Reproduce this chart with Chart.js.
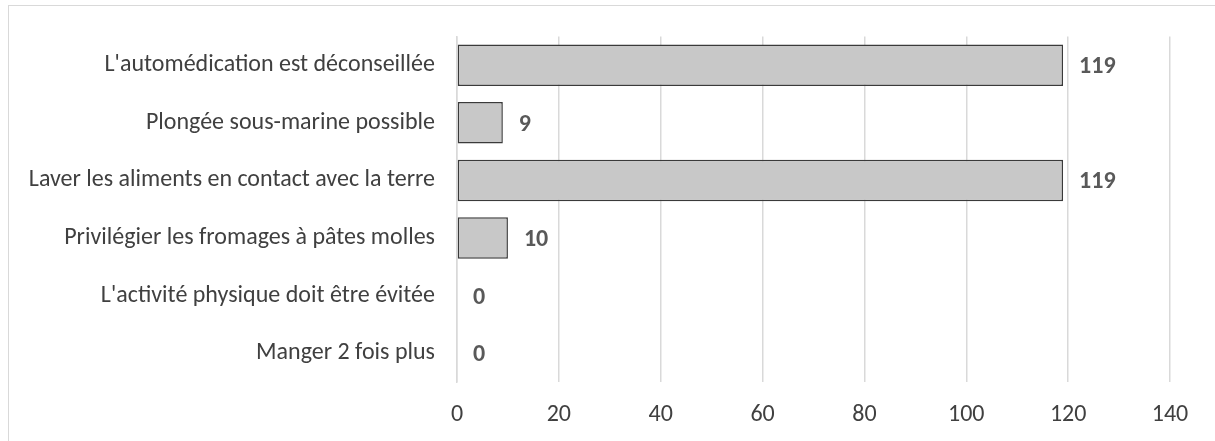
<!DOCTYPE html>
<html>
<head>
<meta charset="utf-8">
<script src="https://cdn.jsdelivr.net/npm/chart.js@4.4.0/dist/chart.umd.min.js"></script>
<style>
  body { margin: 0; background: #fff; }
  .wrap { position: relative; width: 1215px; height: 441px; }
  .frame { position: absolute; left: 8px; top: 5px; width: 1220px; height: 450px; border: 1px solid #d9d9d9; }
  canvas { position: absolute; left: 0; top: 0; }
</style>
</head>
<body>
<div class="wrap">
  <div class="frame"></div>
  <canvas id="graph" width="1215" height="441"></canvas>
</div>
<script>
// data
const categories = [
  "L'automédication est déconseillée",
  "Plongée sous-marine possible",
  "Laver les aliments en contact avec la terre",
  "Privilégier les fromages à pâtes molles",
  "L'activité physique doit être évitée",
  "Manger 2 fois plus"
];
const counts = [119, 9, 119, 10, 0, 0];
const xTicks = [0, 20, 40, 60, 80, 100, 120, 140];

const fontFamily = "Calibri, Carlito, 'Open Sans', sans-serif";

// draws the bold value next to each bar
const valueLabels = {
  id: "valueLabels",
  afterDatasetsDraw(chart) {
    const ctx = chart.ctx;
    const meta = chart.getDatasetMeta(0);
    ctx.save();
    ctx.font = "bold 24px " + fontFamily;
    ctx.fillStyle = "#595959";
    ctx.textAlign = "left";
    ctx.textBaseline = "middle";
    meta.data.forEach((bar, i) => {
      ctx.fillText(String(counts[i]), bar.x + 16, bar.y + 2);
    });
    ctx.restore();
  }
};

const ctx = document.getElementById("graph").getContext("2d");
new Chart(ctx, {
  type: "bar",
  data: {
    labels: categories,
    datasets: [
      {
        data: counts,
        backgroundColor: "#c8c8c8",
        borderColor: "#3a3a3a",
        borderWidth: 1.5,
        borderSkipped: false,
        categoryPercentage: 1,
        barPercentage: 0.72
      }
    ]
  },
  options: {
    indexAxis: "y",
    responsive: false,
    animation: false,
    layout: { padding: { top: 33, right: 45, bottom: 0, left: 0 } },
    plugins: {
      legend: { display: false },
      tooltip: { enabled: false }
    },
    scales: {
      x: {
        min: 0,
        max: 140,
        afterBuildTicks: (scale) => {
          scale.ticks = xTicks.map((v) => ({ value: v }));
        },
        afterFit: (scale) => { scale.height = 59; },
        grid: { color: "#d9d9d9", lineWidth: 1.5, drawTicks: false },
        border: { display: false },
        ticks: {
          padding: 19,
          color: "#404040",
          font: { family: fontFamily, size: 24 }
        }
      },
      y: {
        afterFit: (scale) => { scale.width = 457; },
        grid: { display: false, drawTicks: false },
        border: { display: true, color: "#d9d9d9", width: 1.5 },
        ticks: {
          padding: 22,
          color: "#404040",
          font: { family: fontFamily, size: 24 }
        }
      }
    }
  },
  plugins: [valueLabels]
});
</script>
</body>
</html>
